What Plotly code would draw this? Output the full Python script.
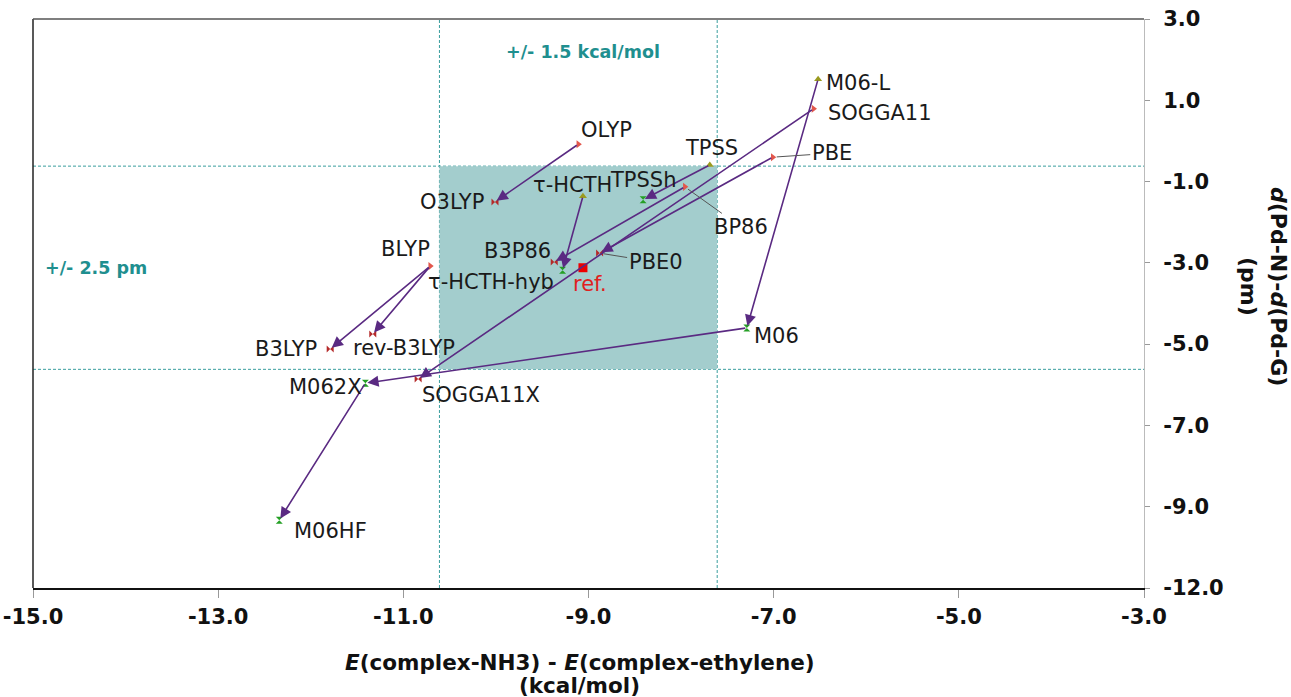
import plotly.graph_objects as go

# ---------------- data ----------------
names = ["OLYP", "O3LYP", "BLYP", "B3LYP", "rev-B3LYP", "τ-HCTH", "τ-HCTH-hyb",
         "TPSS", "TPSSh", "BP86", "B3P86", "PBE", "PBE0", "SOGGA11", "SOGGA11X",
         "M06-L", "M06", "M062X", "M06HF"]
x_vals = [-9.11, -10.01, -10.71, -11.79, -11.33, -9.06, -9.28,
          -7.69, -8.41, -7.96, -9.37, -7.01, -8.88, -6.57, -10.84,
          -6.52, -7.29, -11.41, -12.34]
y_vals = [-0.08, -1.50, -3.08, -5.12, -4.75, -1.36, -3.18,
          -0.59, -1.45, -1.13, -2.98, -0.40, -2.76, 0.79, -5.86,
          1.52, -4.60, -5.96, -9.33]
kinds = ["gga", "hyb", "gga", "hyb", "hyb", "mgga", "mhyb",
         "mgga", "mhyb", "gga", "hyb", "gga", "hyb", "gga", "hyb",
         "mgga", "mhyb", "mhyb", "mhyb"]

ref_x = -9.06
ref_y = -3.12
box_cx = -9.11   # centre of tolerance window (x)
box_cy = -3.12   # centre of tolerance window (y)
tol_x = 1.5      # kcal/mol
tol_y = 2.5      # pm

arrow_pairs = [("OLYP", "O3LYP"), ("BLYP", "B3LYP"), ("BLYP", "rev-B3LYP"),
               ("τ-HCTH", "τ-HCTH-hyb"), ("TPSS", "TPSSh"), ("BP86", "B3P86"),
               ("PBE", "PBE0"), ("SOGGA11", "SOGGA11X"), ("M06-L", "M06"),
               ("M06", "M062X"), ("M062X", "M06HF")]

x_tickvals = [-15, -13, -11, -9, -7, -5, -3]
x_ticktext = ["-15.0", "-13.0", "-11.0", "-9.0", "-7.0", "-5.0", "-3.0"]
y_tickvals = [3, 1, -1, -3, -5, -7, -9, -11]
y_ticktext = ["3.0", "1.0", "-1.0", "-3.0", "-5.0", "-7.0", "-9.0", "-12.0"]

# ---------------- styles ----------------
PURPLE = "#5a2a82"
TEAL_TXT = "#1f8f8f"
TEAL_LINE = "#3a9e9e"
SHADE = "#a3cdcd"
FONT = "DejaVu Sans"
LBL = 21

kind_style = {
    "gga":  dict(symbol="triangle-right", color="#e2574c"),
    "mgga": dict(symbol="triangle-up", color="#9a9a1e"),
    "hyb":  dict(symbol="bowtie", color="#b52a2a"),
    "mhyb": dict(symbol="hourglass", color="#25a025"),
}

# label placement: (dx, dy_up) pixel offset of label centre from marker
label_off = {
    "OLYP": (28, 14), "O3LYP": (-43, 0), "τ-HCTH": (-10, 11), "TPSSh": (0, 20),
    "TPSS": (2, 17), "B3P86": (-37, 11), "τ-HCTH-hyb": (-72, -12),
    "SOGGA11": (67, -4), "M06-L": (40, -4), "M06": (30, -8), "BLYP": (-25, 17),
    "rev-B3LYP": (31, -14), "B3LYP": (-44, 0), "SOGGA11X": (63, -16),
    "M062X": (-40, -4), "M06HF": (51, -11),
}
# labels with leader lines: (ax, ay) pixel offset (ay down-positive)
leader_off = {"PBE0": (56, 9), "BP86": (56, 40), "PBE": (59, -4)}

fig = go.Figure()

# shaded tolerance box & dashed lines
fig.add_shape(type="rect", xref="x", yref="y",
              x0=box_cx - tol_x, x1=box_cx + tol_x, y0=box_cy - tol_y, y1=box_cy + tol_y,
              fillcolor=SHADE, line=dict(width=0), layer="below")
for xv in (box_cx - tol_x, box_cx + tol_x):
    fig.add_shape(type="line", xref="x", yref="paper", x0=xv, x1=xv, y0=0, y1=1,
                  line=dict(color=TEAL_LINE, width=1, dash="3px,2px"), layer="below")
for yv in (box_cy - tol_y, box_cy + tol_y):
    fig.add_shape(type="line", xref="paper", yref="y", x0=0, x1=1, y0=yv, y1=yv,
                  line=dict(color=TEAL_LINE, width=1, dash="3px,2px"), layer="below")

# frame pieces
fig.add_shape(type="line", xref="paper", yref="paper", x0=0, x1=0, y0=0, y1=1,
              line=dict(color="#222222", width=1.5))
fig.add_shape(type="line", xref="paper", yref="paper", x0=0, x1=1, y0=1, y1=1,
              line=dict(color="#555555", width=1.5))

# markers per kind
for k, st in kind_style.items():
    idx = [i for i, kk in enumerate(kinds) if kk == k]
    fig.add_trace(go.Scatter(
        x=[x_vals[i] for i in idx], y=[y_vals[i] for i in idx],
        mode="markers", hoverinfo="text", text=[names[i] for i in idx],
        marker=dict(symbol=st["symbol"], color=st["color"], size=7,
                    line=dict(width=0)),
        showlegend=False))

# reference point
fig.add_trace(go.Scatter(x=[ref_x], y=[ref_y], mode="markers",
                         marker=dict(symbol="square", color="#ee0000", size=9),
                         showlegend=False, hoverinfo="skip"))

pos = {n: (x_vals[i], y_vals[i]) for i, n in enumerate(names)}

# arrows
for src, dst in arrow_pairs:
    fig.add_annotation(x=pos[dst][0], y=pos[dst][1], ax=pos[src][0], ay=pos[src][1],
                       xref="x", yref="y", axref="x", ayref="y", text="",
                       showarrow=True, arrowhead=2, arrowsize=1.4, arrowwidth=1.6,
                       arrowcolor=PURPLE, standoff=2, startstandoff=0)

# labels
for n in names:
    if n in label_off:
        dx, dy = label_off[n]
        fig.add_annotation(x=pos[n][0], y=pos[n][1], text=n, showarrow=False,
                           xshift=dx, yshift=dy, xanchor="center", yanchor="middle",
                           font=dict(family=FONT, size=LBL, color="#1a1a1a"))
    else:
        ax, ay = leader_off[n]
        fig.add_annotation(x=pos[n][0], y=pos[n][1], text=n, showarrow=True,
                           ax=ax, ay=ay, arrowhead=0, arrowwidth=1,
                           arrowcolor="#555555", standoff=4,
                           font=dict(family=FONT, size=LBL, color="#1a1a1a"))

fig.add_annotation(x=ref_x, y=ref_y, text="ref.", showarrow=False, xshift=7, yshift=-16,
                   xanchor="center", yanchor="middle",
                   font=dict(family=FONT, size=LBL, color="#e02020"))

# tolerance annotations
fig.add_annotation(x=ref_x, y=0.942, xref="x", yref="paper", text="<b>+/- 1.5 kcal/mol</b>",
                   xanchor="center", yanchor="middle",
                   showarrow=False, font=dict(family=FONT, size=17.5, color=TEAL_TXT))
fig.add_annotation(x=0.009, y=ref_y, xref="paper", yref="y", text="<b>+/- 2.5 pm</b>",
                   xanchor="left", yanchor="middle", showarrow=False,
                   font=dict(family=FONT, size=17.5, color=TEAL_TXT))

# axis titles
fig.add_annotation(x=0.492, y=-0.131, xref="paper", yref="paper",
                   text="<b><i>E</i>(complex-NH3) - <i>E</i>(complex-ethylene)</b>",
                   showarrow=False, xanchor="center", yanchor="middle",
                   font=dict(family=FONT, size=21.5, color="#111111"))
fig.add_annotation(x=0.492, y=-0.171, xref="paper", yref="paper",
                   text="<b>(kcal/mol)</b>", showarrow=False, xanchor="center", yanchor="middle",
                   font=dict(family=FONT, size=21.5, color="#111111"))
fig.add_annotation(x=1.1206, y=0.529, xref="paper", yref="paper",
                   text="<b><i>d</i>(Pd-N)-<i>d</i>(Pd-G)</b>", textangle=90,
                   showarrow=False, xanchor="center", yanchor="middle",
                   font=dict(family=FONT, size=22, color="#111111"))
fig.add_annotation(x=1.0936, y=0.529, xref="paper", yref="paper",
                   text="<b>(pm)</b>", textangle=90,
                   showarrow=False, xanchor="center", yanchor="middle",
                   font=dict(family=FONT, size=22, color="#111111"))

fig.update_layout(
    width=1291, height=697,
    margin=dict(l=33, r=147, t=19, b=109, autoexpand=False),
    paper_bgcolor="white", plot_bgcolor="white",
    xaxis=dict(range=[-15, -3], tickvals=x_tickvals, ticktext=x_ticktext,
               automargin=False,
               showgrid=False, zeroline=False, showline=True, linecolor="#111111",
               linewidth=1.5, ticks="outside", ticklen=8, tickcolor="#999999",
               ticklabelstandoff=1,
               tickfont=dict(family=FONT, size=21, color="#111111", weight="bold")),
    yaxis=dict(range=[-11, 3], tickvals=y_tickvals, ticktext=y_ticktext, side="right",
               automargin=False,
               showgrid=False, zeroline=False, showline=True, linecolor="#bbbbbb",
               linewidth=1, ticks="outside", ticklen=5, tickcolor="#999999",
               ticklabelstandoff=9,
               tickfont=dict(family=FONT, size=21, color="#111111", weight="bold")),
)

fig.write_html("out.html", config={"displayModeBar": False},
               post_script="document.body.style.margin='0';document.body.style.overflow='hidden';")
